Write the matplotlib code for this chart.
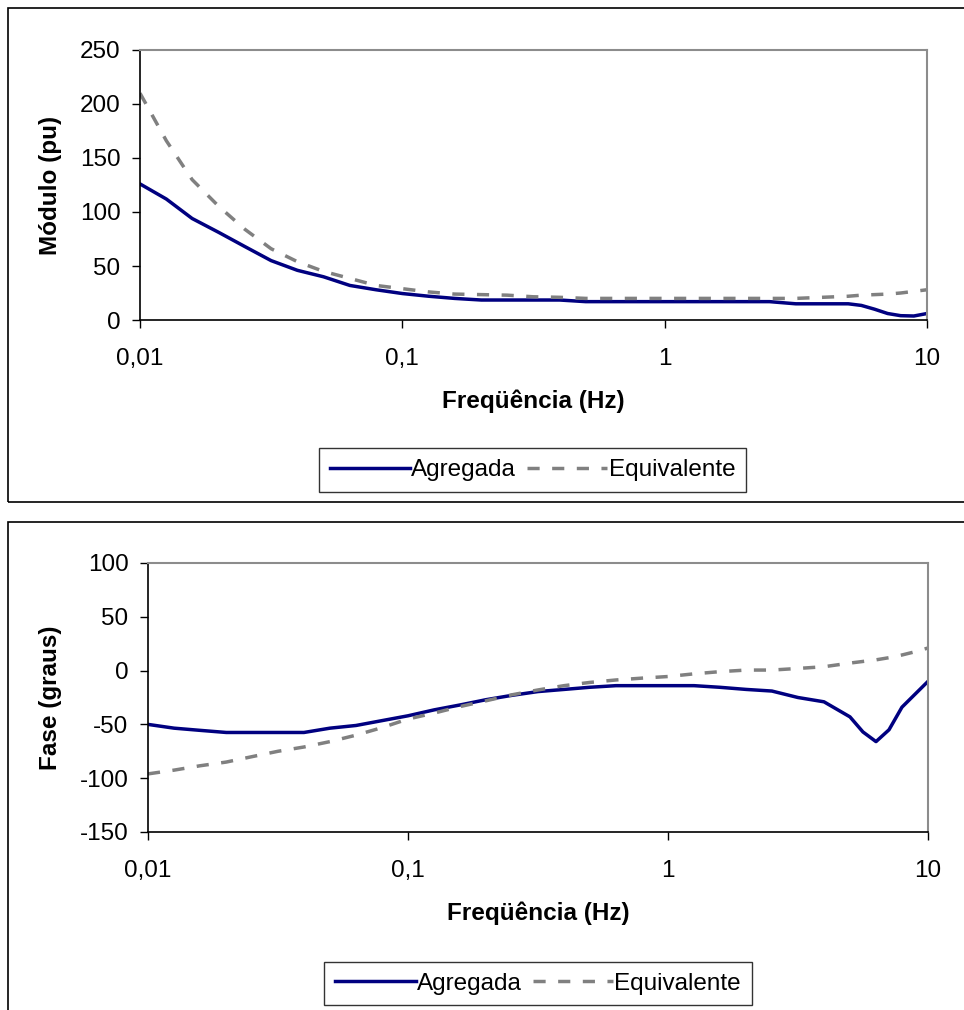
import matplotlib
matplotlib.use("Agg")
import matplotlib.pyplot as plt
from matplotlib.patches import Rectangle

# =========================
# DATA
# =========================
freq = [0.01, 0.0126, 0.0158, 0.02, 0.0251, 0.0316, 0.0398, 0.0501, 0.0631, 0.0794,
        0.1, 0.126, 0.158, 0.2, 0.251, 0.316, 0.398, 0.5, 0.631, 0.794,
        1.0, 1.26, 1.58, 2.0, 2.51, 3.16, 3.98, 5.01, 5.62, 6.31, 7.08, 7.94, 8.91, 10.0]

mod_agregada = [126, 112, 94, 81, 68, 55, 46, 40, 32, 28,
                24.5, 22, 20, 18.5, 18.5, 18.5, 18.5, 17, 17, 17,
                17, 17, 17, 17, 17, 15, 15, 15, 13.5, 10, 6, 4, 3.7, 6]
mod_equivalente = [210, 166, 130, 105, 84, 66, 54, 45, 38.5, 32,
                   29, 26, 24, 23.5, 23, 21.5, 21, 20, 20, 20,
                   20, 20, 20, 20, 20, 20, 21, 22, 23, 23.5, 24, 25, 26.5, 28]

fase_agregada = [-50, -53.5, -55.5, -57.5, -57.5, -57.5, -57.5, -53.5, -51, -46.5,
                 -42, -36.5, -32, -27, -23, -19.5, -17.5, -15.5, -14, -14,
                 -14, -14, -15.5, -17.5, -19, -25, -29, -43, -57, -66, -55, -34, -22, -10]
fase_equivalente = [-96, -92.5, -88.5, -85, -80, -75, -71, -66, -60, -53,
                    -45, -39.5, -33.5, -28, -22.5, -18, -14, -11, -8.7, -7,
                    -5.5, -3, -1, 0.5, 0.5, 2, 3.6, 7, 8.5, 10, 12, 14.5, 17.5, 21]

xticks = [0.01, 0.1, 1, 10]
xtick_labels = ["0,01", "0,1", "1", "10"]

# =========================
# FIGURE
# =========================
W, H = 964, 1010
FS = 17.5
plt.rcParams["font.family"] = ["Liberation Sans", "DejaVu Sans"]
plt.rcParams["font.size"] = FS
plt.rcParams["axes.unicode_minus"] = False

fig = plt.figure(figsize=(W / 100, H / 100), dpi=100)

# outer chart frames
fig.add_artist(Rectangle((8 / W, 1 - 502 / H), 1.0, 494 / H, transform=fig.transFigure,
                         fill=False, edgecolor="black", linewidth=1.2))
fig.add_artist(Rectangle((8 / W, -0.1), 1.0, 0.1 + 1 - 522 / H, transform=fig.transFigure,
                         fill=False, edgecolor="black", linewidth=1.2))


def style_axes(ax, ylim, yticks, ylabel, ylabel_x, xlabel_y):
    ax.set_xscale("log")
    ax.set_xlim(0.01, 10)
    ax.set_ylim(*ylim)
    ax.set_xticks(xticks)
    ax.set_xticklabels(xtick_labels)
    ax.minorticks_off()
    ax.set_yticks(yticks)
    ax.tick_params(axis="both", direction="out", length=6, width=1, color="black",
                   labelsize=FS)
    ax.tick_params(axis="y", pad=8)
    ax.tick_params(axis="x", pad=14.5)
    for side in ["left", "bottom"]:
        ax.spines[side].set_color("black")
        ax.spines[side].set_linewidth(1.2)
    for side in ["top", "right"]:
        ax.spines[side].set_color("#8c8c8c")
        ax.spines[side].set_linewidth(1.5)
    ax.set_ylabel(ylabel, fontweight="bold", fontsize=FS)
    ax.set_xlabel("Freqüência (Hz)", fontweight="bold", fontsize=FS)
    ax.yaxis.set_label_coords(ylabel_x, 0.5)
    ax.yaxis.label.set_va("center")
    ax.xaxis.set_label_coords(0.5, xlabel_y)
    ax.xaxis.label.set_va("center")


def add_legend(ax, cx, cy):
    leg = ax.legend(loc="center", bbox_to_anchor=(cx / W, 1 - cy / H),
                    bbox_transform=fig.transFigure, ncol=2, frameon=True, fancybox=False,
                    edgecolor="black", handlelength=3.3, handletextpad=0.05,
                    columnspacing=0.45, borderpad=0.45, fontsize=FS)
    leg.get_frame().set_linewidth(1.0)
    return leg


# =========================
# TOP: MODULO
# =========================
ax1 = fig.add_axes([140 / W, 1 - 320 / H, 787 / W, 270 / H])
ax1.plot(freq, mod_agregada, color="#000080", linewidth=2.5, label="Agregada")
ax1.plot(freq, mod_equivalente, color="#808080", linewidth=2.5,
         linestyle=(0, (3.5, 3.6)), label="Equivalente")
style_axes(ax1, (0, 250), [0, 50, 100, 150, 200, 250], "Módulo (pu)",
           (50 - 140) / 787, (320 - 401) / 270)
add_legend(ax1, 532.5, 470)

# =========================
# BOTTOM: FASE
# =========================
ax2 = fig.add_axes([148 / W, 1 - 832 / H, 780 / W, 269 / H])
ax2.plot(freq, fase_agregada, color="#000080", linewidth=2.5, label="Agregada")
ax2.plot(freq, fase_equivalente, color="#808080", linewidth=2.5,
         linestyle=(0, (3.5, 3.6)), label="Equivalente")
style_axes(ax2, (-150, 100), [-150, -100, -50, 0, 50, 100], "Fase (graus)",
           (50 - 148) / 780, (832 - 913) / 269)
add_legend(ax2, 538, 983.5)

fig.savefig("out.png", dpi=100)
